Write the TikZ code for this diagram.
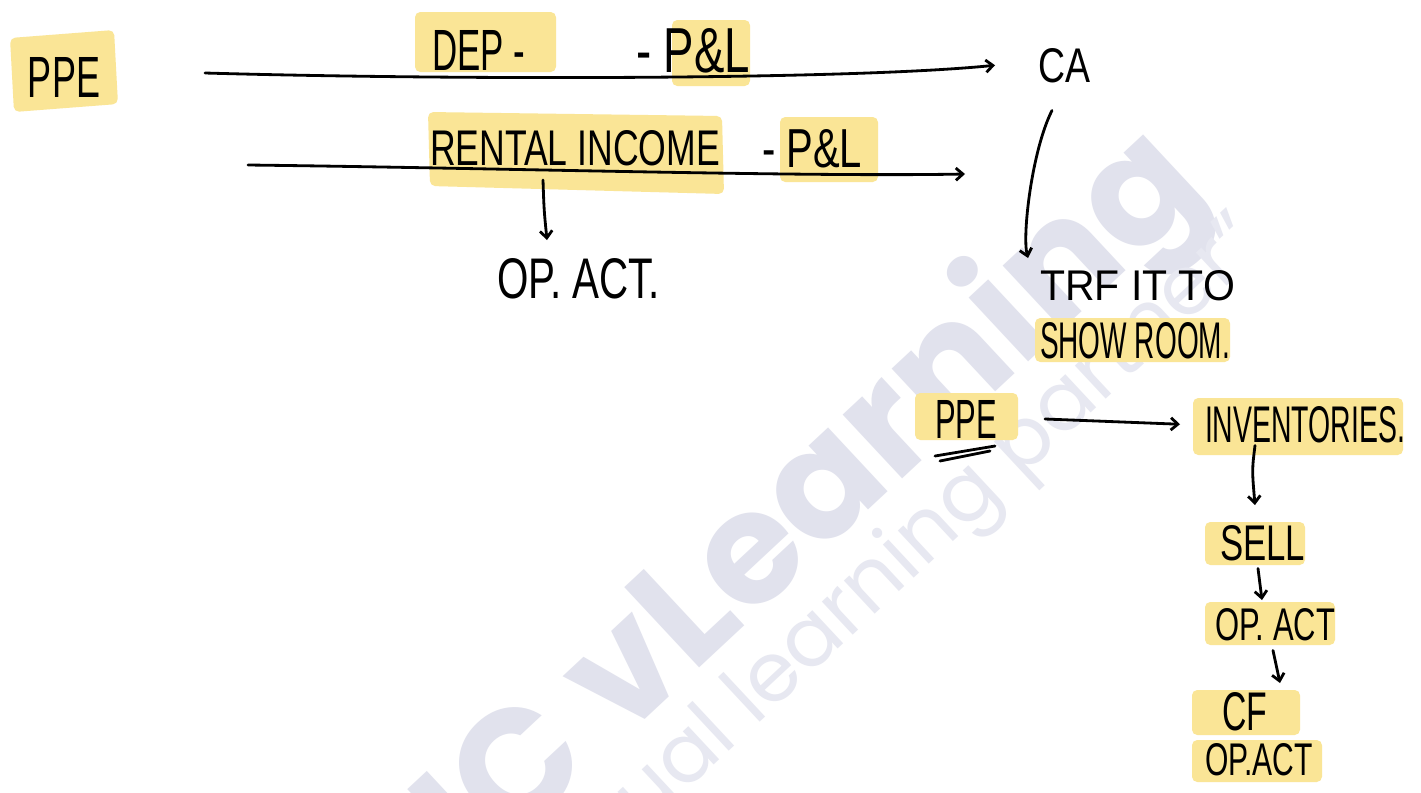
\documentclass[tikz,border=0pt]{standalone}
\usepackage{fontspec}
\setmainfont{Liberation Sans}
\newfontfamily\hand{Liberation Sans}
\newfontfamily\wmfont{Poppins}
\usetikzlibrary{arrows.meta,calc}
\definecolor{hl}{RGB}{250,229,150}
\definecolor{wm}{RGB}{225,226,237}
\definecolor{wmlight}{RGB}{231,232,241}
\newlength\pxu \setlength\pxu{0.02cm}
\newcommand\hw[3]{\resizebox{#1\pxu}{#2\pxu}{\hand #3}}
\tikzset{
  lbl/.style={anchor=base west, inner sep=0pt, outer sep=0pt},
  hlbox/.style={fill=hl, rounded corners=3pt},
  pen/.style={line width=1.6pt, line cap=round, line join=round, black},
  conn/.style={pen, -{Straight Barb[length=4pt,width=7pt]}},
}
\begin{document}
\begin{tikzpicture}[x=0.02cm,y=-0.02cm]
\useasboundingbox (0,0) rectangle (1421,792);
\begin{scope}
\clip (0,0) rectangle (1421,792);
\fill[white] (0,0) rectangle (1421,792);
% watermark
\node[anchor=base east, rotate=43, text=wm, inner sep=0pt] (wm1) at (1210,192)
  {\wmfont\fontsize{89}{92}\selectfont\bfseries IC vLearning};
\node[anchor=base east, rotate=43, text=wmlight, inner sep=0pt] (wm2) at (1268,248)
  {\wmfont\fontsize{47}{50}\selectfont “virtual learning partner”};
% highlights
\fill[hlbox] (10,38) -- (114,30) -- (118,104) -- (14,112) -- cycle;
\fill[hlbox] (415,12) rectangle (556,72);
\fill[hlbox] (672,20) rectangle (750,86);
\fill[hlbox] (428,112) -- (722,116) -- (724,194) -- (430,186) -- cycle;
\fill[hlbox] (780,117) rectangle (878,182);
\fill[hlbox] (1035,318) rectangle (1230,362);
\fill[hlbox] (915,393) rectangle (1018,440);
\fill[hlbox] (1193,398) rectangle (1403,455);
\fill[hlbox] (1205,522) rectangle (1305,565);
\fill[hlbox] (1205,602) rectangle (1335,645);
\fill[hlbox] (1192,690) rectangle (1300,735);
\fill[hlbox] (1192,740) rectangle (1322,782);
\end{scope}
% labels
\node[lbl] (ppe) at (28,97) {\hw{72}{40}{PPE}};
\node[lbl] (dep) at (432,70) {\hw{93}{40}{DEP -}};
\node[lbl] (pl1) at (636,72) {\hw{114}{44}{- P\&L}};
\node[lbl] (ca) at (1038,82) {\hw{52}{34}{CA}};
\node[lbl] (rent) at (430,165) {\hw{290}{35}{RENTAL INCOME}};
\node[lbl] (pl2) at (762,167) {\hw{100}{38}{- P\&L}};
\node[lbl] (opact) at (497,298) {\hw{163}{40}{OP. ACT.}};
\node[lbl] (trf) at (1040,300) {\hw{195}{30}{TRF IT TO}};
\node[lbl] (show) at (1040,358) {\hw{190}{36}{SHOW ROOM.}};
\node[lbl] (ppe2) at (935,438) {\hw{62}{38}{PPE}};
\node[lbl] (inv) at (1205,442) {\hw{200}{36}{INVENTORIES.}};
\node[lbl] (sell) at (1220,560) {\hw{85}{35}{SELL}};
\node[lbl] (opactb) at (1215,640) {\hw{120}{32}{OP. ACT}};
\node[lbl] (cf) at (1222,730) {\hw{45}{38}{CF}};
\node[lbl] (opactc) at (1205,775) {\hw{108}{32}{OP.ACT}};
% connectors
\coordinate (l1s) at (205,73);
\draw[conn] (l1s) .. controls (450,80) and (850,80) .. ([xshift=-0.86cm]ca.west);
\coordinate (l2s) at (248,165);
\coordinate (l2e) at (965,174);
\draw[conn] (l2s) .. controls (500,168) and (800,177) .. (l2e);
\coordinate (l2b) at (543,180);
\draw[conn] (l2b) .. controls (544,210) .. ([shift={(50,-18)}]opact.north west);
\draw[conn] ([shift={(14,28)}]ca.south west) .. controls (1032,150) and (1022,235) .. ([shift={(-12,-12)}]trf.north west);
\draw[conn] ([xshift=0.96cm]ppe2.east) -- ([xshift=-0.5cm]inv.west);
\draw[conn] ([shift={(50,3)}]inv.south west) .. controls (1252,470) .. ([shift={(35,-20)}]sell.north west);
\draw[conn] ([shift={(38,8)}]sell.south west) -- ([shift={(47,-8)}]opactb.north west);
\draw[conn] ([shift={(58,10)}]opactb.south west) -- ([shift={(58,-9)}]cf.north west);
% double underline under PPE
\draw[pen] (935,456) -- (995,446);
\draw[pen] (940,461) -- (990,451);
\end{tikzpicture}
\end{document}
